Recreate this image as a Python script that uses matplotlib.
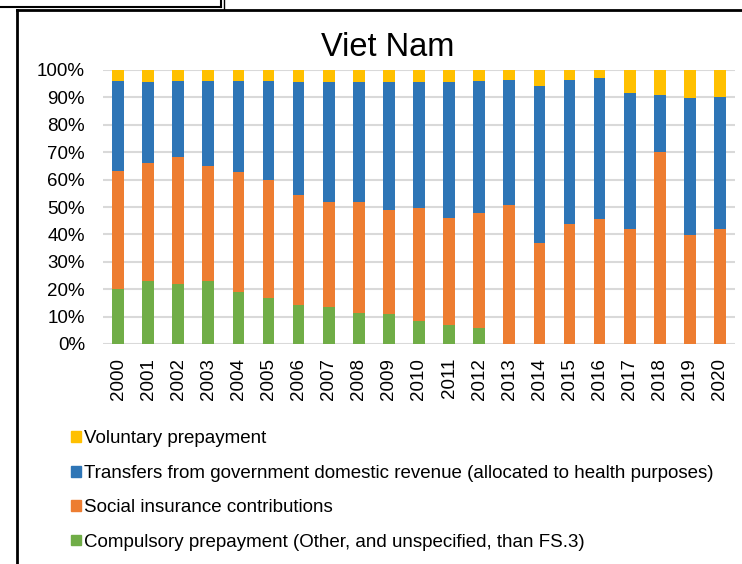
import numpy as np
import matplotlib.pyplot as plt
from matplotlib.patches import Patch
from matplotlib.lines import Line2D
from matplotlib.ticker import PercentFormatter

plt.rcParams['font.family'] = ['Liberation Sans', 'DejaVu Sans']

years = [str(y) for y in range(2000, 2021)]
compulsory = [20.0, 23.0, 21.9, 23.0, 18.8, 16.8, 14.2, 13.4, 11.3, 11.1, 8.3,
              7.0, 5.7, 0, 0, 0, 0, 0, 0, 0, 0]
social = [43.2, 43.0, 46.5, 42.0, 43.9, 43.2, 40.1, 38.5, 40.6, 37.7, 41.2,
          38.9, 42.2, 50.7, 36.9, 43.9, 45.6, 41.9, 70.1, 39.9, 41.9]
transfers = [32.8, 29.6, 27.7, 30.9, 33.3, 36.0, 41.3, 43.7, 43.8, 46.8, 46.2,
             49.7, 48.1, 45.7, 57.1, 52.5, 51.4, 49.7, 20.8, 49.9, 48.1]
voluntary = [4.0, 4.4, 3.9, 4.1, 4.0, 4.0, 4.4, 4.4, 4.3, 4.4, 4.3,
             4.4, 4.0, 3.6, 6.0, 3.6, 3.0, 8.4, 9.1, 10.2, 10.0]

series = [
    ("Compulsory prepayment (Other, and unspecified, than FS.3)", compulsory, "#70AD47"),
    ("Social insurance contributions", social, "#ED7D31"),
    ("Transfers from government domestic revenue (allocated to health purposes)", transfers, "#2E75B6"),
    ("Voluntary prepayment", voluntary, "#FFC000"),
]

fig = plt.figure(figsize=(7.42, 5.64), dpi=100)
ax = fig.add_axes([103 / 742, 1 - 344 / 564, 632 / 742, 274 / 564])

x = np.arange(len(years))
bottom = np.zeros(len(years))
for name, vals, col in series:
    vals = np.array(vals)
    ax.bar(x, vals, 0.39, bottom=bottom, color=col, zorder=3)
    bottom += vals

ax.set_xlim(-0.5, len(years) - 0.5)
ax.set_ylim(0, 100)
ax.set_yticks(np.arange(0, 101, 10))
ax.yaxis.set_major_formatter(PercentFormatter(decimals=0))
ax.set_xticks(x)
ax.set_xticklabels(years, rotation=90)
ax.tick_params(length=0, labelsize=13.5, colors='black')
ax.tick_params(axis='y', pad=13)
ax.tick_params(axis='x', pad=10)
ax.grid(axis='y', color='#d9d9d9', linewidth=1.5, zorder=0)
for s in ax.spines.values():
    s.set_visible(False)

fig.text(388 / 742, 1 - 47 / 564, "Viet Nam", ha='center', va='center', fontsize=23.5)

# legend, listed top to bottom as in the reference
handles = [Patch(color=col) for _, _, col in series[::-1]]
labels = [name for name, _, _ in series[::-1]]
fig.legend(handles, labels, loc='upper left', bbox_to_anchor=(62 / 742, 1 - 421 / 564),
           frameon=False, fontsize=13.5, handlelength=0.5, handleheight=0.5,
           handletextpad=0.2, labelspacing=0.93, borderpad=0)

# sheet border fragments
lw = 2
fig.add_artist(Line2D([16.5 / 742, 16.5 / 742], [0, 1 - 9.5 / 564], color='black', lw=lw, transform=fig.transFigure))
fig.add_artist(Line2D([16.5 / 742, 1], [1 - 9.5 / 564, 1 - 9.5 / 564], color='black', lw=lw, transform=fig.transFigure))
fig.add_artist(Line2D([0, 221 / 742], [1 - 7 / 564, 1 - 7 / 564], color='black', lw=1.5, transform=fig.transFigure))
fig.add_artist(Line2D([221 / 742, 221 / 742], [1 - 7 / 564, 1], color='black', lw=1.5, transform=fig.transFigure))
fig.add_artist(Line2D([223.5 / 742, 223.5 / 742], [1 - 9 / 564, 1], color='black', lw=1, transform=fig.transFigure))

fig.savefig("out.png", dpi=100)
